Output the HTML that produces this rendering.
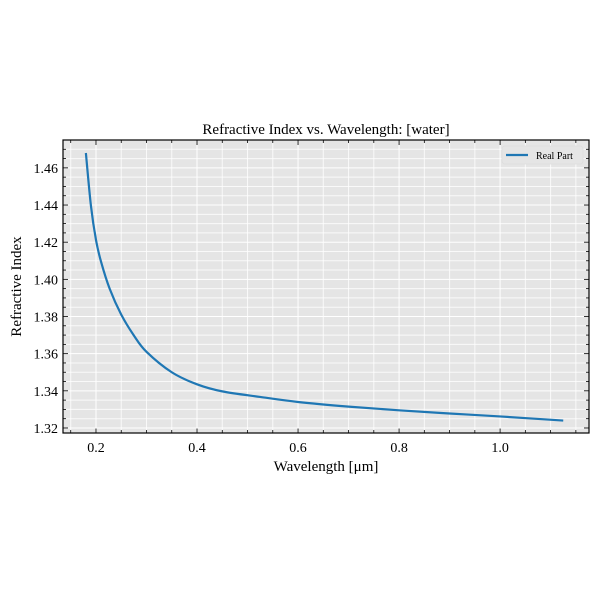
<!DOCTYPE html>
<html><head><meta charset="utf-8"><style>
body{margin:0;background:#fff;}
svg{display:block;font-family:"Liberation Serif","DejaVu Serif",serif;}
</style></head><body>
<svg id="chart" width="600" height="600"></svg>
<script>
const wavelengths=[0.18,0.19,0.2,0.21,0.227,0.25,0.275,0.3,0.35,0.4,0.45,0.525,0.6,0.7,0.8,0.9,1.0,1.125];
const realPart=[1.468,1.4396,1.4212,1.4095,1.395,1.381,1.3698,1.361,1.350,1.3435,1.3397,1.3367,1.3340,1.3315,1.3295,1.3278,1.3262,1.3240];
const xTicks=[0.2,0.4,0.6,0.8,1.0];
const xTickLabels=["0.2","0.4","0.6","0.8","1.0"];
const yTicks=[1.32,1.34,1.36,1.38,1.40,1.42,1.44,1.46];
const yTickLabels=["1.32","1.34","1.36","1.38","1.40","1.42","1.44","1.46"];
const L=63,T=140,R=589,B=433;
const xMin=0.1347,xMax=1.176,yMin=1.3173,yMax=1.475;
const X=v=>L+(v-xMin)/(xMax-xMin)*(R-L);
const Y=v=>B-(v-yMin)/(yMax-yMin)*(B-T);
const svg=document.getElementById('chart');
const NS='http://www.w3.org/2000/svg';
function mk(tag,attrs,parent){const e=document.createElementNS(NS,tag);for(const k in attrs)e.setAttribute(k,attrs[k]);(parent||svg).appendChild(e);return e;}
const bg=mk('rect',{x:L,y:T,width:R-L,height:B-T,fill:'#e5e5e5'});


const grid=mk('g',{});


for(let v=0.15;v<xMax;v+=0.05){const major=Math.abs(v*5-Math.round(v*5))<1e-6;const x=X(v);
mk('line',{x1:x,x2:x,y1:T,y2:B,stroke:'#fff','stroke-width':1,opacity:major?1:0.8},grid);
mk('line',{x1:x,x2:x,y1:B,y2:B-(major?5:3),stroke:'#000','stroke-width':0.8},grid);
mk('line',{x1:x,x2:x,y1:T,y2:T+(major?5:3),stroke:'#000','stroke-width':0.8},grid);}
for(let v=1.32;v<yMax;v+=0.005){const major=Math.abs(v*50-Math.round(v*50))<1e-6;const y=Y(v);
mk('line',{x1:L,x2:R,y1:y,y2:y,stroke:'#fff','stroke-width':1,opacity:major?1:0.8},grid);
mk('line',{x1:L,x2:L+(major?5:3),y1:y,y2:y,stroke:'#000','stroke-width':0.8},grid);
mk('line',{x1:R,x2:R-(major?5:3),y1:y,y2:y,stroke:'#000','stroke-width':0.8},grid);}
xTicks.forEach((v,i)=>{const t=mk('text',{x:X(v),y:B+19,'text-anchor':'middle','font-size':14});t.textContent=xTickLabels[i];

});
yTicks.forEach((v,i)=>{const t=mk('text',{x:L-5,y:Y(v)+5,'text-anchor':'end','font-size':14});t.textContent=yTickLabels[i];

});
const pts=wavelengths.map((w,i)=>[X(w),Y(realPart[i])]);
let d='M'+pts[0][0]+','+pts[0][1];
for(let i=0;i<pts.length-1;i++){const p0=pts[Math.max(0,i-1)],p1=pts[i],p2=pts[i+1],p3=pts[Math.min(pts.length-1,i+2)];
const c1=[p1[0]+(p2[0]-p0[0])/6,p1[1]+(p2[1]-p0[1])/6],c2=[p2[0]-(p3[0]-p1[0])/6,p2[1]-(p3[1]-p1[1])/6];
d+=' C'+c1+' '+c2+' '+p2;}
const line=mk('path',{d:d,fill:'none',stroke:'#1f77b4','stroke-width':2.2,'stroke-linejoin':'round'});


const frame=mk('rect',{x:L,y:T,width:R-L,height:B-T,fill:'none',stroke:'#000','stroke-width':1.2});


const title=mk('text',{x:(L+R)/2,y:134,'text-anchor':'middle','font-size':15});title.textContent='Refractive Index vs. Wavelength: [water]';


const xl=mk('text',{x:(L+R)/2,y:471,'text-anchor':'middle','font-size':15});xl.textContent='Wavelength [μm]';


const yl=mk('text',{x:21,y:(T+B)/2,'text-anchor':'middle','font-size':15,transform:'rotate(-90 21 '+((T+B)/2)+')'});yl.textContent='Refractive Index';


const lg=mk('g',{});


mk('rect',{x:502,y:146,width:81,height:18,rx:3,fill:'#e5e5e5',stroke:'#ddd','stroke-width':0.8},lg);
mk('line',{x1:506,x2:528,y1:155,y2:155,stroke:'#1f77b4','stroke-width':2.2},lg);
const lt=mk('text',{x:536,y:159,'font-size':10},lg);lt.textContent='Real Part';


</script>
</body></html>
